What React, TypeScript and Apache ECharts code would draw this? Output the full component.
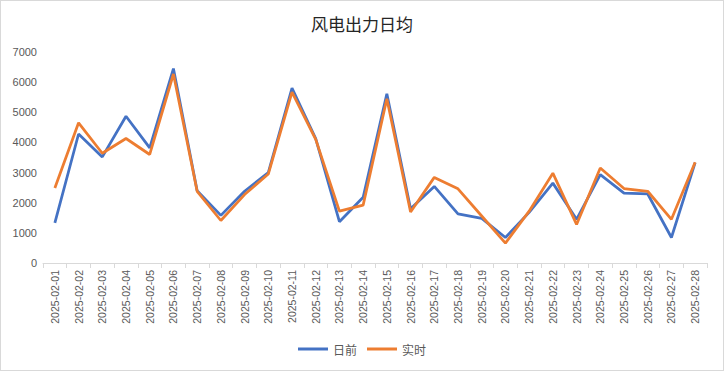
import React, { useEffect, useRef } from "react";
import * as echarts from "echarts";

const dates: string[] = Array.from({ length: 28 }, (_, i) => `2025-02-${String(i + 1).padStart(2, "0")}`);
const dayAhead: number[] = [1330, 4280, 3520, 4870, 3820, 6450, 2400, 1580, 2380, 3000, 5800, 4130, 1370, 2180, 5610, 1800, 2540, 1630, 1480, 845, 1680, 2650, 1450, 2930, 2320, 2290, 845, 3330];
const realTime: number[] = [2490, 4650, 3640, 4130, 3600, 6270, 2380, 1410, 2270, 2950, 5670, 4100, 1720, 1920, 5450, 1690, 2840, 2460, 1560, 660, 1720, 2980, 1280, 3150, 2470, 2380, 1450, 3340];
const yTicks = { min: 0, max: 7000, interval: 1000 };

export default function App() {
  const ref = useRef<HTMLDivElement>(null);
  useEffect(() => {
    if (!ref.current) return;
    const chart = echarts.init(ref.current, undefined, { renderer: "svg" });
    chart.setOption({
      animation: false,
      backgroundColor: "#ffffff",
      title: {
        text: "风电出力日均",
        left: "center",
        top: 9,
        textStyle: { fontFamily: "Noto Sans CJK SC", fontSize: 17, fontWeight: "normal", color: "#262626" },
      },
      grid: { left: 42, right: 16, top: 51, bottom: 107, containLabel: false },
      legend: {
        bottom: 10,
        left: "center",
        itemWidth: 30,
        itemHeight: 3,
        itemGap: 10,
        icon: "rect",
        textStyle: { fontSize: 12, color: "#595959", fontFamily: "Noto Sans CJK SC" },
        data: ["日前", "实时"],
      },
      xAxis: {
        type: "category",
        data: dates,
        boundaryGap: true,
        axisLine: { lineStyle: { color: "#d9d9d9" } },
        axisTick: { show: true, length: 5, lineStyle: { color: "#d9d9d9" } },
        axisLabel: { rotate: 90, interval: 0, fontSize: 10.5, color: "#595959", fontFamily: "Liberation Sans", margin: 7 },
      },
      yAxis: {
        type: "value",
        min: yTicks.min,
        max: yTicks.max,
        interval: yTicks.interval,
        splitLine: { show: false },
        axisLine: { show: false },
        axisTick: { show: false },
        axisLabel: { fontSize: 11, color: "#595959", fontFamily: "Liberation Sans", margin: 6, formatter: (v: number) => String(v) },
      },
      series: [
        {
          name: "日前",
          type: "line",
          data: dayAhead,
          symbol: "none",
          lineStyle: { width: 2.75, color: "#4472C4" },
          itemStyle: { color: "#4472C4" },
        },
        {
          name: "实时",
          type: "line",
          data: realTime,
          symbol: "none",
          lineStyle: { width: 2.75, color: "#ED7D31" },
          itemStyle: { color: "#ED7D31" },
        },
      ],
    });
    return () => chart.dispose();
  }, []);
  return (
    <div
      ref={ref}
      style={{ position: "fixed", left: 0, top: 0, width: 724, height: 371, boxSizing: "border-box", border: "1px solid #d9d9d9" }}
    />
  );
}
